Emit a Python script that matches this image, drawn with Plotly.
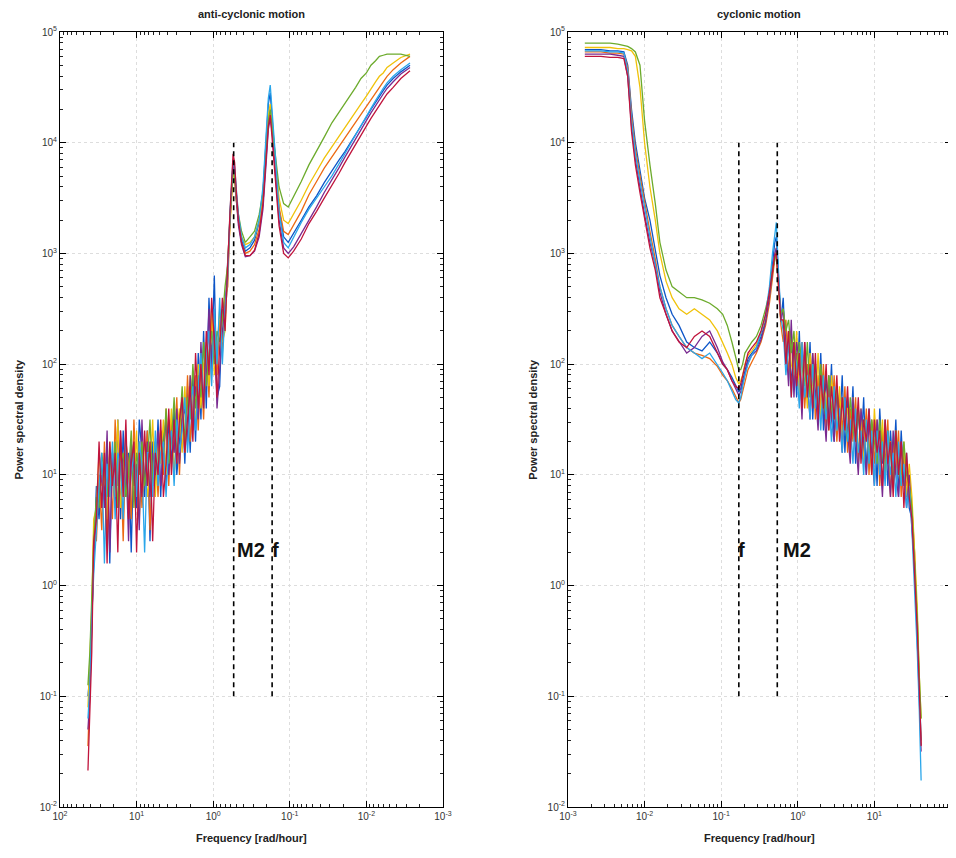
import math
import plotly.graph_objects as go

# ---------------- data (log10 values) ----------------
# frequency grid, log10(rad/hour)
FREQ_LOG_LOW = [-2.78, -2.65, -2.57, -2.45, -2.35, -2.27, -2.22, -2.17, -2.12, -2.06,
                -2.0, -1.93, -1.86, -1.8, -1.72, -1.64, -1.55, -1.45, -1.35, -1.25,
                -1.15, -1.05, -0.98, -0.92, -0.86, -0.81, -0.77, -0.745, -0.72, -0.69,
                -0.65, -0.6, -0.54, -0.48, -0.42, -0.37, -0.33, -0.3, -0.28, -0.26,
                -0.24, -0.22]
FREQ_LOG_HIGH = [-0.19, -0.155, -0.12, -0.085, -0.05, -0.015, 0.02, 0.055, 0.09, 0.125,
                 0.16, 0.195, 0.23, 0.265, 0.3, 0.335, 0.37, 0.405, 0.44, 0.475,
                 0.51, 0.545, 0.58, 0.615, 0.65, 0.685, 0.72, 0.755, 0.79, 0.825,
                 0.86, 0.895, 0.93, 0.965, 1.0, 1.035, 1.07, 1.105, 1.14, 1.175,
                 1.21, 1.245, 1.28, 1.315, 1.35, 1.385, 1.42, 1.455, 1.49, 1.525, 1.56]
FREQ_LOG_END = [1.585, 1.61, 1.635]

F_INERTIAL = 0.17   # rad/hour
M2_FREQ = 0.54      # rad/hour
LINE_BOTTOM = 1e-1
LINE_TOP = 1e4

X_TICK_EXP = [-3, -2, -1, 0, 1, 2]
Y_TICK_EXP = [-2, -1, 0, 1, 2, 3, 4, 5]
MINOR_DIGITS = [2, 3, 4, 5, 6, 7, 8, 9]

SERIES_NAMES = ["s1", "s2", "s3", "s4", "s5", "s6", "s7"]
SERIES_COLORS = ["#0c55c8", "#ec6a12", "#f0c20a", "#7a2a90", "#6cab2c", "#2aa6ea", "#c0143c"]

# anti-cyclonic power spectral density, log10
ANTI_1 = ([None, None, 4.7, 4.64, 4.58, 4.52, 4.47, 4.42, 4.37, 4.3, 4.23, 4.15, 4.08, 4.0, 3.92, 3.84,
           3.75, 3.64, 3.52, 3.42, 3.3, 3.18, 3.1, 3.15, 3.4, 3.85, 4.25, 4.45, 4.35, 4.0, 3.55, 3.28,
           3.12, 3.05, 3.02, 3.12, 3.3, 3.55, 3.75, 3.82, 3.6, 3.35]
          + [2.8, 2.4, 2.5, 1.8, 1.7, 2.8, 2.0, 2.6, 1.6, 2.3, 1.5, 2.1, 1.3, 1.9, 1.2, 1.8, 1.1, 1.7,
             1.3, 1.0, 1.6, 1.1, 1.5, 0.9, 1.4, 0.8, 1.5, 0.9, 1.3, 0.4, 1.4, 0.8, 1.2, 1.5, 0.7, 1.3,
             0.3, 1.2, 0.8, 1.4, 0.6, 1.5, 0.7, 1.2, 0.2, 1.3, 0.8, 1.1, 0.6, 0.9, 0.2]
          + [-0.3, -0.8, -1.0])
ANTI_2 = ([None, None, 4.78, 4.72, 4.66, 4.6, 4.55, 4.5, 4.45, 4.38, 4.32, 4.25, 4.18, 4.12, 4.04, 3.96,
           3.88, 3.77, 3.65, 3.53, 3.38, 3.25, 3.17, 3.2, 3.42, 3.8, 4.15, 4.3, 4.2, 3.85, 3.45, 3.22,
           3.08, 3.02, 3.0, 3.1, 3.28, 3.5, 3.7, 3.78, 3.55, 3.3]
          + [2.7, 2.6, 2.1, 2.4, 1.9, 2.3, 2.4, 1.7, 2.2, 1.5, 2.0, 1.4, 1.9, 1.6, 1.3, 1.9, 1.2, 1.6,
             1.0, 1.7, 1.2, 1.5, 0.9, 1.6, 1.0, 1.4, 0.8, 1.3, 1.1, 0.5, 1.4, 1.0, 0.7, 1.3, 0.9, 1.5,
             0.6, 1.1, 1.3, 0.4, 1.2, 0.9, 1.5, 0.6, 1.1, 0.4, 1.3, 0.5, 1.0, 0.4, 0.5]
          + [-0.4, -0.9, -1.45])
ANTI_3 = ([None, None, 4.8, 4.77, 4.72, 4.68, 4.63, 4.6, 4.55, 4.48, 4.42, 4.35, 4.28, 4.22, 4.14, 4.06,
           3.97, 3.86, 3.74, 3.62, 3.48, 3.35, 3.27, 3.3, 3.5, 3.85, 4.2, 4.35, 4.25, 3.9, 3.5, 3.3,
           3.15, 3.1, 3.08, 3.15, 3.3, 3.5, 3.68, 3.72, 3.5, 3.3]
          + [2.9, 2.3, 2.2, 2.5, 2.1, 1.9, 2.5, 1.8, 2.1, 2.0, 1.6, 2.0, 1.5, 1.7, 1.9, 1.3, 1.8, 1.2,
             1.6, 1.4, 1.0, 1.6, 1.2, 1.0, 1.5, 1.1, 1.3, 0.8, 1.5, 1.0, 0.8, 1.3, 1.1, 0.6, 1.4, 0.9,
             1.2, 0.6, 1.3, 1.0, 0.7, 1.5, 0.8, 1.0, 1.3, 0.6, 1.1, 0.9, 1.2, 0.7, 0.6]
          + [-0.2, -0.7, -1.1])
ANTI_4 = ([None, None, 4.68, 4.62, 4.55, 4.49, 4.44, 4.39, 4.34, 4.27, 4.2, 4.12, 4.04, 3.96, 3.87, 3.77,
           3.67, 3.55, 3.42, 3.3, 3.18, 3.06, 3.0, 3.05, 3.3, 3.75, 4.1, 4.22, 4.12, 3.8, 3.4, 3.15,
           3.02, 2.98, 2.97, 3.08, 3.25, 3.5, 3.72, 3.8, 3.55, 3.3]
          + [3.0, 2.5, 2.3, 1.9, 1.6, 2.4, 1.9, 2.5, 1.9, 1.7, 2.2, 1.5, 1.8, 1.4, 1.9, 1.3, 1.6, 1.5,
             1.1, 1.6, 1.2, 1.4, 1.0, 1.5, 1.2, 0.9, 1.4, 1.0, 1.2, 0.8, 1.3, 0.9, 1.5, 0.5, 1.1, 0.9,
             1.3, 0.4, 1.2, 0.9, 1.4, 0.7, 1.0, 1.2, 0.3, 1.4, 0.7, 1.0, 0.8, 0.6, 0.3]
          + [-0.5, -1.0, -1.3])
ANTI_5 = ([None, None, 4.78, 4.8, 4.8, 4.8, 4.79, 4.78, 4.74, 4.7, 4.63, 4.58, 4.5, 4.44, 4.36, 4.28,
           4.18, 4.05, 3.92, 3.8, 3.65, 3.52, 3.42, 3.45, 3.6, 3.9, 4.15, 4.3, 4.2, 3.9, 3.55, 3.35,
           3.2, 3.15, 3.1, 3.2, 3.35, 3.55, 3.7, 3.75, 3.55, 3.35]
          + [2.9, 2.7, 2.4, 2.2, 2.3, 2.0, 2.3, 2.1, 1.8, 2.2, 1.7, 1.9, 1.6, 2.0, 1.5, 1.7, 1.3, 1.8,
             1.4, 1.2, 1.7, 1.3, 1.1, 1.6, 1.2, 1.4, 1.0, 1.3, 0.9, 1.5, 1.1, 0.9, 1.3, 1.0, 1.2, 0.7,
             1.4, 1.0, 0.8, 1.2, 1.1, 0.7, 1.3, 0.9, 1.2, 0.8, 1.0, 1.2, 0.7, 0.8, 0.4]
          + [-0.1, -0.6, -0.9])
ANTI_6 = ([None, None, 4.72, 4.66, 4.6, 4.54, 4.49, 4.44, 4.38, 4.31, 4.24, 4.16, 4.08, 4.0, 3.9, 3.8,
           3.7, 3.6, 3.5, 3.4, 3.28, 3.15, 3.05, 3.1, 3.38, 3.9, 4.3, 4.52, 4.4, 4.05, 3.6, 3.3,
           3.15, 3.08, 3.05, 3.15, 3.35, 3.6, 3.78, 3.85, 3.62, 3.38]
          + [2.8, 2.5, 2.0, 2.6, 2.0, 2.5, 1.8, 2.3, 2.1, 1.6, 2.1, 1.8, 1.4, 1.8, 1.6, 1.2, 1.7, 1.4,
             1.2, 1.5, 0.9, 1.4, 1.3, 0.8, 1.3, 1.2, 0.9, 1.4, 0.8, 1.2, 1.2, 0.3, 1.1, 1.3, 0.8, 1.2,
             1.0, 0.7, 1.4, 0.6, 1.1, 1.2, 0.6, 1.3, 0.8, 1.1, 0.2, 1.2, 0.9, 0.5, 0.1]
          + [-0.3, -0.9, -1.2])
ANTI_7 = ([None, None, 4.65, 4.58, 4.5, 4.44, 4.39, 4.34, 4.29, 4.22, 4.15, 4.07, 3.99, 3.91, 3.82, 3.72,
           3.62, 3.5, 3.38, 3.27, 3.13, 3.02, 2.96, 3.0, 3.25, 3.72, 4.1, 4.25, 4.15, 3.85, 3.45, 3.18,
           3.03, 2.98, 2.98, 3.1, 3.3, 3.58, 3.82, 3.9, 3.65, 3.38]
          + [2.9, 2.3, 2.6, 2.1, 1.7, 2.2, 2.6, 1.9, 2.3, 1.6, 2.0, 1.6, 2.1, 1.3, 1.8, 1.5, 1.2, 1.7,
             1.5, 1.1, 1.5, 1.0, 1.6, 1.1, 0.8, 1.5, 1.0, 1.2, 0.4, 1.3, 0.9, 1.4, 0.8, 1.2, 0.3, 1.3,
             1.1, 0.6, 1.5, 0.8, 1.4, 0.3, 1.2, 0.9, 1.3, 0.2, 1.2, 0.7, 1.3, 0.6, 0.4]
          + [-0.6, -1.2, -1.67])

# cyclonic power spectral density, log10
CYC_1 = ([4.84, 4.84, 4.84, 4.83, 4.83, 4.82, 4.7, 4.3, 4.0, 3.75, 3.5, 3.3, 3.05, 2.8, 2.6, 2.45,
          2.35, 2.2, 2.15, 2.12, 2.2, 2.1, 2.0, 1.95, 1.88, 1.8, 1.75, 1.78, 1.85, 1.95, 2.05, 2.1,
          2.15, 2.25, 2.4, 2.65, 2.9, 3.1, 3.15, 2.85, 2.6, 2.4]
         + [2.6, 2.0, 2.3, 1.8, 2.2, 1.7, 2.3, 1.6, 2.1, 1.7, 2.2, 1.5, 2.0, 1.6, 2.1, 1.4, 1.9, 1.5,
            2.0, 1.3, 1.8, 1.4, 1.9, 1.2, 1.7, 1.3, 1.8, 1.1, 1.6, 1.2, 1.7, 1.0, 1.6, 1.2, 1.5, 0.9,
            1.6, 1.1, 1.5, 0.9, 1.4, 1.0, 1.5, 0.8, 1.4, 0.9, 1.2, 0.7, 0.6, 0.1, -0.3]
         + [-0.9, -1.4, None])
CYC_2 = ([4.82, 4.82, 4.82, 4.81, 4.81, 4.8, 4.68, 4.25, 3.95, 3.7, 3.45, 3.2, 2.95, 2.7, 2.5, 2.35,
          2.25, 2.15, 2.1, 2.08, 2.05, 1.98, 1.9, 1.85, 1.78, 1.7, 1.65, 1.68, 1.75, 1.85, 1.95, 2.02,
          2.1, 2.2, 2.35, 2.55, 2.8, 2.95, 3.0, 2.75, 2.5, 2.35]
         + [2.2, 2.4, 1.9, 2.3, 1.8, 2.1, 1.9, 2.2, 1.6, 2.0, 1.7, 2.1, 1.5, 1.9, 1.6, 2.0, 1.4, 1.8,
            1.5, 1.9, 1.3, 1.7, 1.4, 1.8, 1.2, 1.6, 1.3, 1.7, 1.1, 1.5, 1.2, 1.6, 1.0, 1.5, 1.1, 1.5,
            0.9, 1.4, 1.1, 1.5, 0.8, 1.3, 1.0, 1.4, 0.8, 1.2, 0.9, 1.0, 0.7, 0.3, -0.4]
         + [-1.0, -1.44, None])
CYC_3 = ([4.86, 4.86, 4.86, 4.86, 4.85, 4.85, 4.84, 4.83, 4.78, 4.5, 4.0, 3.6, 3.3, 3.0, 2.75, 2.6,
          2.5, 2.45, 2.5, 2.45, 2.4, 2.3, 2.2, 2.1, 2.0, 1.88, 1.82, 1.85, 1.9, 2.0, 2.08, 2.12,
          2.18, 2.28, 2.42, 2.6, 2.85, 2.98, 3.05, 2.8, 2.55, 2.38]
         + [2.4, 2.1, 2.3, 2.0, 1.9, 2.3, 1.7, 2.1, 2.0, 1.6, 2.1, 1.8, 1.6, 2.1, 1.5, 1.8, 1.7, 1.4,
            1.9, 1.6, 1.4, 1.8, 1.3, 1.6, 1.6, 1.2, 1.7, 1.4, 1.2, 1.6, 1.1, 1.5, 1.3, 1.0, 1.6, 1.2,
            1.1, 1.5, 1.0, 1.3, 1.3, 0.9, 1.4, 1.1, 1.0, 1.3, 0.8, 1.1, 0.8, 0.3, -0.2]
         + [-0.8, -1.2, None])
CYC_4 = ([4.8, 4.8, 4.8, 4.8, 4.79, 4.78, 4.6, 4.15, 3.85, 3.6, 3.35, 3.1, 2.9, 2.65, 2.45, 2.3,
          2.2, 2.1, 2.15, 2.25, 2.3, 2.15, 2.02, 1.95, 1.85, 1.78, 1.72, 1.75, 1.82, 1.92, 2.02, 2.08,
          2.12, 2.22, 2.38, 2.6, 2.85, 3.0, 3.05, 2.8, 2.55, 2.38]
         + [2.5, 2.2, 1.8, 2.4, 1.7, 2.2, 2.0, 1.5, 2.2, 1.8, 1.5, 2.1, 1.7, 1.4, 2.0, 1.6, 1.3, 1.9,
            1.5, 1.3, 1.8, 1.5, 1.2, 1.7, 1.4, 1.1, 1.7, 1.3, 1.0, 1.6, 1.3, 1.0, 1.5, 1.2, 0.9, 1.5,
            1.2, 0.8, 1.4, 1.1, 0.8, 1.4, 1.0, 0.8, 1.3, 1.0, 0.7, 1.0, 0.5, 0.2, -0.5]
         + [-1.0, -1.5, None])
CYC_5 = ([4.9, 4.9, 4.9, 4.9, 4.89, 4.88, 4.87, 4.85, 4.82, 4.7, 4.2, 3.8, 3.45, 3.1, 2.85, 2.7,
          2.65, 2.6, 2.6, 2.58, 2.55, 2.5, 2.45, 2.35, 2.2, 2.05, 1.95, 1.95, 2.0, 2.1, 2.15, 2.2,
          2.25, 2.35, 2.5, 2.65, 2.85, 2.95, 3.0, 2.8, 2.6, 2.45]
         + [2.5, 2.3, 2.4, 2.1, 2.3, 1.9, 2.2, 2.0, 1.8, 2.2, 1.7, 2.0, 1.9, 1.6, 2.0, 1.7, 1.5, 1.9,
            1.6, 1.5, 1.8, 1.4, 1.7, 1.5, 1.3, 1.7, 1.4, 1.3, 1.6, 1.2, 1.5, 1.4, 1.1, 1.5, 1.3, 1.1,
            1.5, 1.2, 1.0, 1.4, 1.2, 0.9, 1.4, 1.1, 0.9, 1.3, 1.0, 0.9, 0.7, 0.2, -0.3]
         + [-0.8, -1.2, None])
CYC_6 = ([4.83, 4.83, 4.83, 4.82, 4.82, 4.81, 4.65, 4.2, 3.9, 3.65, 3.4, 3.15, 2.9, 2.7, 2.5, 2.35,
          2.25, 2.15, 2.1, 2.05, 2.1, 2.0, 1.92, 1.85, 1.75, 1.68, 1.65, 1.7, 1.8, 1.9, 2.0, 2.08,
          2.15, 2.28, 2.45, 2.7, 3.0, 3.2, 3.28, 2.95, 2.65, 2.42]
         + [2.3, 1.9, 2.2, 1.7, 2.1, 2.0, 1.6, 2.2, 1.7, 1.9, 1.5, 2.0, 1.6, 1.8, 1.4, 1.9, 1.5, 1.7,
            1.3, 1.8, 1.4, 1.6, 1.2, 1.7, 1.3, 1.5, 1.1, 1.6, 1.2, 1.4, 1.0, 1.5, 1.1, 1.4, 0.9, 1.4,
            1.0, 1.3, 0.9, 1.4, 1.0, 1.2, 0.8, 1.3, 0.9, 1.1, 0.7, 0.9, 0.5, 0.0, -0.6]
         + [-1.1, -1.76, None])
CYC_7 = ([4.78, 4.78, 4.78, 4.77, 4.77, 4.76, 4.6, 4.1, 3.8, 3.55, 3.3, 3.05, 2.85, 2.6, 2.45, 2.3,
          2.2, 2.15, 2.25, 2.3, 2.25, 2.1, 2.0, 1.95, 1.85, 1.8, 1.78, 1.82, 1.9, 2.0, 2.1, 2.15,
          2.2, 2.3, 2.45, 2.65, 2.85, 2.98, 3.0, 2.8, 2.55, 2.4]
         + [2.4, 2.0, 2.3, 1.7, 2.2, 1.8, 2.1, 1.6, 2.2, 1.7, 2.0, 1.6, 2.1, 1.5, 1.9, 1.6, 2.0, 1.4,
            1.8, 1.5, 1.9, 1.3, 1.7, 1.4, 1.8, 1.2, 1.6, 1.3, 1.7, 1.1, 1.5, 1.3, 1.6, 1.0, 1.5, 1.2,
            1.4, 0.9, 1.5, 1.1, 1.3, 0.8, 1.4, 1.0, 1.3, 0.7, 1.2, 0.8, 0.6, 0.1, -0.4]
         + [-0.9, -1.45, None])

ANTI_SERIES = [ANTI_1, ANTI_2, ANTI_3, ANTI_4, ANTI_5, ANTI_6, ANTI_7]
CYC_SERIES = [CYC_1, CYC_2, CYC_3, CYC_4, CYC_5, CYC_6, CYC_7]

# ---------------- figure ----------------
FONT = "Liberation Sans, Arial, sans-serif"
freq = [10 ** v for v in FREQ_LOG_LOW + FREQ_LOG_HIGH + FREQ_LOG_END]


def to_power(vals):
    return [None if v is None else 10 ** v for v in vals]


fig = go.Figure()
for panel, series in (("1", ANTI_SERIES), ("2", CYC_SERIES)):
    xa = "x" if panel == "1" else "x2"
    ya = "y" if panel == "1" else "y2"
    for name, color, vals in zip(SERIES_NAMES, SERIES_COLORS, series):
        fig.add_trace(go.Scatter(
            x=freq, y=to_power(vals), mode="lines", name=name,
            line=dict(color=color, width=1.3), showlegend=False,
            xaxis=xa, yaxis=ya, connectgaps=False, hoverinfo="skip"))
    for fx in (F_INERTIAL, M2_FREQ):
        fig.add_trace(go.Scatter(
            x=[fx, fx], y=[LINE_BOTTOM, LINE_TOP], mode="lines",
            line=dict(color="black", width=1.6, dash="5px,4px"), showlegend=False,
            xaxis=xa, yaxis=ya, hoverinfo="skip"))

tick_x = [10 ** e for e in X_TICK_EXP]
tick_x_text = ["10<sup>%d</sup>" % e for e in X_TICK_EXP]
tick_y = [10 ** e for e in Y_TICK_EXP]
tick_y_text = ["10<sup>%d</sup>" % e for e in Y_TICK_EXP]
minor_x = [d * 10 ** e for e in X_TICK_EXP[:-1] for d in MINOR_DIGITS]
minor_y = [d * 10 ** e for e in Y_TICK_EXP[:-1] for d in MINOR_DIGITS]

axis_common = dict(
    type="log", showline=True, linecolor="black", linewidth=1, mirror="allticks",
    ticks="inside", ticklen=6, tickcolor="black", tickwidth=1,
    tickmode="array",
    showgrid=True, gridcolor="#dddddd", griddash="dot", gridwidth=1,
    tickfont=dict(family=FONT, size=10, color="#333"), zeroline=False, automargin=False,
)


def minor(vals):
    return dict(ticks="inside", ticklen=3, tickcolor="#222", tickwidth=1,
                tickmode="array", tickvals=vals, showgrid=False)


# the page body adds an 8px offset, so the figure is sized to fit the window
fig.update_layout(
    width=948, height=850,
    margin=dict(l=52, r=5, t=24, b=51, autoexpand=False),
    paper_bgcolor="white", plot_bgcolor="white",
    font=dict(family=FONT, color="#222"),
    xaxis=dict(axis_common, domain=[0.0, 0.4298], range=[2, -3], anchor="y",
               tickvals=tick_x, ticktext=tick_x_text, minor=minor(minor_x)),
    yaxis=dict(axis_common, domain=[0, 1], range=[-2, 5], anchor="x",
               tickvals=tick_y, ticktext=tick_y_text, minor=minor(minor_y)),
    xaxis2=dict(axis_common, domain=[0.5701, 1.0], range=[-3, 2], anchor="y2",
                tickvals=tick_x, ticktext=tick_x_text, minor=minor(minor_x)),
    yaxis2=dict(axis_common, domain=[0, 1], range=[-2, 5], anchor="x2",
                tickvals=tick_y, ticktext=tick_y_text, minor=minor(minor_y)),
)

TXT = dict(family=FONT, size=11, color="#222")
ann = []
for xc, title in ((0.2149, "anti-cyclonic motion"), (0.785, "cyclonic motion")):
    ann.append(dict(x=xc, y=1.023, xref="paper", yref="paper", text="<b>%s</b>" % title,
                    xanchor="center", yanchor="middle", showarrow=False, font=TXT))
    ann.append(dict(x=xc, y=-0.04, xref="paper", yref="paper", text="<b>Frequency [rad/hour]</b>",
                    xanchor="center", yanchor="middle", showarrow=False, font=TXT))
for xp in (-0.047, 0.53):
    ann.append(dict(x=xp, y=0.5, xref="paper", yref="paper", text="<b>Power spectral density</b>",
                    xanchor="center", yanchor="middle", textangle=-90, showarrow=False, font=TXT))

label_y = 0.32
LBL = dict(family=FONT, size=20, color="#111")
ann.append(dict(x=math.log10(M2_FREQ), y=label_y, xref="x", yref="y", text="<b>M2</b>",
                xanchor="left", xshift=1, showarrow=False, font=LBL))
ann.append(dict(x=math.log10(F_INERTIAL), y=label_y, xref="x", yref="y", text="<b>f</b>",
                xanchor="center", xshift=3, showarrow=False, font=LBL))
ann.append(dict(x=math.log10(F_INERTIAL), y=label_y, xref="x2", yref="y2", text="<b>f</b>",
                xanchor="center", xshift=3, showarrow=False, font=LBL))
ann.append(dict(x=math.log10(M2_FREQ), y=label_y, xref="x2", yref="y2", text="<b>M2</b>",
                xanchor="left", xshift=4, showarrow=False, font=LBL))
fig.update_layout(annotations=ann)

fig.write_html("out.html")
